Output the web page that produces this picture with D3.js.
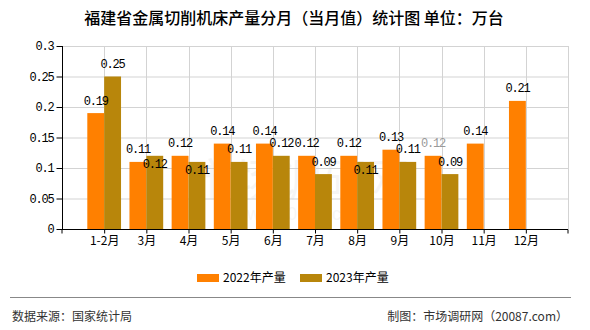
<!DOCTYPE html>
<html><head><meta charset="utf-8">
<script src="https://cdn.jsdelivr.net/npm/d3@7"></script>
<style>body{margin:0;background:#fff}svg{display:block}</style>
</head><body>
<svg id="c" width="590" height="330"></svg>
<script>
const categories = ["1-2月","3月","4月","5月","6月","7月","8月","9月","10月","11月","12月"];
const series2022 = [0.19,0.11,0.12,0.14,0.14,0.12,0.12,0.13,0.12,0.14,0.21];
const series2023 = [0.25,0.12,0.11,0.11,0.12,0.09,0.11,0.11,0.09,null,null];
const seriesNames = ["2022年产量","2023年产量"];
const yTicks = [0,0.05,0.1,0.15,0.2,0.25,0.3];
const colors = ["#FF8000","#B8860B"];
// labels drawn inside the bar (collision avoidance in original)
const insideLabels2023 = new Set([1,2,6]);
const grayLabels2022 = new Set([8]);

const svg = d3.select("#c");
const L = 62, R = 568, T = 46, B = 229;
const monoFont = "'Liberation Mono', monospace";
const cjk = "'Noto Sans CJK SC', sans-serif";

const x = d3.scalePoint().domain(categories).range([L, R]).padding(1);
const y = d3.scaleLinear().domain([0, 0.3]).range([B, T]);
const step = x.step();
const bw = step * 0.4;

// watermark
svg.append("text").attr("x", 300).attr("y", 196).attr("text-anchor", "middle")
  .attr("font-family", cjk).attr("font-size", 44).attr("fill", "#000").attr("opacity", 0.035)
  .text("市场调研网");
svg.append("text").attr("x", 300).attr("y", 220).attr("text-anchor", "middle")
  .attr("font-family", "Liberation Sans").attr("font-size", 18).attr("fill", "#000").attr("opacity", 0.03)
  .text("www.20087.com");

// grid
const g = svg.append("g");
g.selectAll("line.h").data(yTicks.filter(d => d > 0)).join("line")
  .attr("x1", L).attr("x2", R).attr("y1", d => y(d) + 0.5).attr("y2", d => y(d) + 0.5)
  .attr("stroke", "#d3d3d3").attr("stroke-width", 1);
g.selectAll("line.v").data(categories).join("line")
  .attr("x1", d => Math.round(x(d)) + 0.5).attr("x2", d => Math.round(x(d)) + 0.5)
  .attr("y1", T).attr("y2", B).attr("stroke", "#d3d3d3");
g.append("line").attr("x1", R + 0.5).attr("x2", R + 0.5).attr("y1", T).attr("y2", B).attr("stroke", "#d3d3d3");

// bars
const all = [series2022, series2023];
all.forEach((s, si) => {
  svg.append("g").selectAll("rect").data(s.map((v, i) => ({v, i})).filter(d => d.v != null)).join("rect")
    .attr("x", d => x(categories[d.i]) - bw + si * bw)
    .attr("width", bw)
    .attr("y", d => y(d.v))
    .attr("height", d => B - y(d.v))
    .attr("fill", colors[si]);
});

// axes
const yAxis = d3.axisLeft(y).tickValues(yTicks).tickSize(6).tickFormat(d => String(+d.toFixed(2)));
const ya = svg.append("g").attr("transform", `translate(${L + 0.5},0)`).call(yAxis);
ya.select(".domain").attr("stroke", "#000").attr("d", `M-0,${T}V${B}`);
ya.selectAll(".tick line").attr("stroke", "#000");
ya.selectAll(".tick text").attr("font-family", monoFont).attr("font-size", 12)
  .attr("letter-spacing", "-1.2px").attr("fill", "#000").attr("x", -9);

const xAxis = d3.axisBottom(x).tickSize(4).tickSizeOuter(4);
const xa = svg.append("g").attr("transform", `translate(0,${B + 0.5})`).call(xAxis);
xa.select(".domain").attr("stroke", "#000").attr("d", `M${L},4V0H${R}V4`);
xa.selectAll(".tick line").attr("stroke", "#000");
xa.selectAll(".tick text").attr("font-family", cjk).attr("font-size", 12).attr("fill", "#000").attr("dy", "0.85em").attr("y", 5);

// data labels
all.forEach((s, si) => {
  svg.append("g").selectAll("text").data(s.map((v, i) => ({v, i})).filter(d => d.v != null)).join("text")
    .attr("x", d => x(categories[d.i]) - bw / 2 + si * bw)
    .attr("y", d => y(d.v) + ((si === 1 && insideLabels2023.has(d.i)) ? 12 : -8.5))
    .attr("text-anchor", "middle")
    .attr("font-family", monoFont).attr("font-size", 12).attr("letter-spacing", "-1.2px")
    .attr("fill", d => (si === 0 && grayLabels2022.has(d.i)) ? "#999" : "#000")
    .text(d => String(d.v));
});

// title
svg.append("text").attr("x", 294).attr("y", 24).attr("text-anchor", "middle")
  .attr("font-family", cjk).attr("font-size", 16).attr("font-weight", 500).attr("fill", "#000")
  .text("福建省金属切削机床产量分月（当月值）统计图 单位：万台");

// legend
const lx = [197, 300];
seriesNames.forEach((n, i) => {
  svg.append("rect").attr("x", lx[i]).attr("y", 274).attr("width", 22).attr("height", 8).attr("fill", colors[i]);
  svg.append("text").attr("x", lx[i] + 26).attr("y", 282).attr("font-family", cjk).attr("font-size", 12)
    .attr("fill", "#000").text(n);
});

// footer
svg.append("line").attr("x1", 10).attr("x2", 571).attr("y1", 297.5).attr("y2", 297.5).attr("stroke", "#888");
svg.append("text").attr("x", 12).attr("y", 321).attr("font-family", cjk).attr("font-size", 12).attr("fill", "#333")
  .text("数据来源：国家统计局");
svg.append("text").attr("x", 568).attr("y", 321).attr("text-anchor", "end").attr("font-family", cjk).attr("font-size", 12).attr("fill", "#333")
  .text("制图：市场调研网（20087.com）");
</script>
</body></html>
